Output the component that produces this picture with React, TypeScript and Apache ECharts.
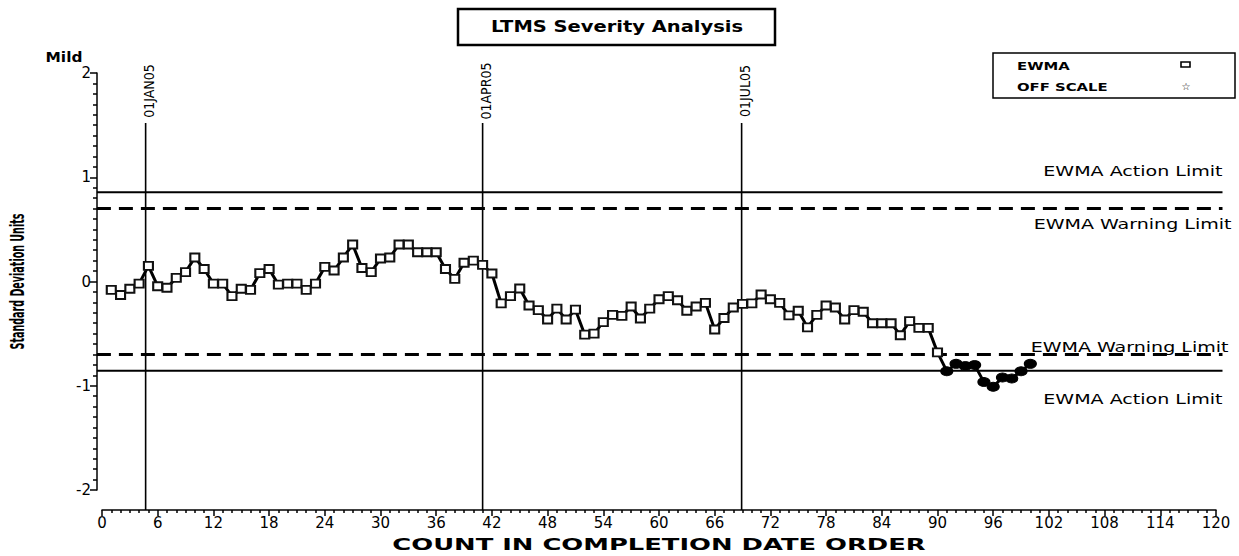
import React, { useEffect, useRef } from 'react';
import * as echarts from 'echarts';

// EWMA values, in completion-date order (count 1..100)
const ewmaValues: number[] = [
  -0.08, -0.13, -0.07, -0.02, 0.15, -0.045, -0.06, 0.035, 0.09, 0.23,
  0.12, -0.02, -0.02, -0.14, -0.07, -0.08, 0.08, 0.12, -0.03, -0.02,
  -0.02, -0.08, -0.02, 0.14, 0.105, 0.23, 0.355, 0.13, 0.09, 0.22,
  0.23, 0.355, 0.355, 0.28, 0.28, 0.28, 0.12, 0.025, 0.18, 0.2,
  0.16, 0.077, -0.21, -0.14, -0.067, -0.23, -0.275, -0.365, -0.26, -0.365,
  -0.27, -0.51, -0.5, -0.39, -0.32, -0.33, -0.24, -0.355, -0.26, -0.17,
  -0.14, -0.18, -0.28, -0.24, -0.205, -0.46, -0.35, -0.25, -0.215, -0.21,
  -0.125, -0.17, -0.205, -0.325, -0.28, -0.44, -0.32, -0.23, -0.25, -0.365,
  -0.275, -0.29, -0.4, -0.4, -0.4, -0.515, -0.38, -0.445, -0.445, -0.68,
  -0.86, -0.79, -0.81, -0.8, -0.965, -1.01, -0.92, -0.93, -0.86, -0.79,
];

const xMin = 0;
const xMax = 120;
const xStep = 6;
const yMin = -2;
const yMax = 2;
const yStep = 1;

const actionLimit = 0.856;
const warningLimit = 0.7;

const dateMarkX: number[] = [4.7, 41, 68.9];
const dateMarkLabels: string[] = ['01JAN05', '01APR05', '01JUL05'];

const titleText = 'LTMS Severity Analysis';
const xAxisTitle = 'COUNT IN COMPLETION DATE ORDER';
const yAxisTitle = 'Standard Deviation Units';
const yTopLabel = 'Mild';
const legendLabels: string[] = ['EWMA', 'OFF SCALE'];

const FONT = "'DejaVu Sans', Verdana, sans-serif";
const NARROW = "'Liberation Sans Narrow', 'DejaVu Sans Condensed', 'Arial Narrow', sans-serif";

export default function App() {
  const ref = useRef<HTMLDivElement>(null);

  useEffect(() => {
    if (!ref.current) return;
    const chart = echarts.init(ref.current, undefined, { renderer: 'svg' });

    const data = ewmaValues.map((v, i) => {
      const beyond = v < -warningLimit || v > warningLimit;
      return {
        value: [i + 1, v],
        symbol: beyond ? 'circle' : 'rect',
        symbolSize: beyond ? [12, 9] : [9, 8],
        itemStyle: beyond
          ? { color: '#000', borderColor: '#000', borderWidth: 1 }
          : { color: '#fff', borderColor: '#111', borderWidth: 2 },
      };
    });

    chart.setOption({
      animation: false,
      backgroundColor: '#fff',
      textStyle: { fontFamily: FONT },
      grid: { left: 102, right: 23, top: 73, bottom: 66, containLabel: false },
      xAxis: {
        type: 'value',
        min: xMin,
        max: xMax,
        interval: xStep,
        offset: 20,
        axisLine: { show: true, onZero: false, lineStyle: { color: '#000', width: 1.5 } },
        axisTick: { show: true, length: 6, lineStyle: { color: '#000', width: 1.5 } },
        minorTick: { show: true, splitNumber: 6, length: 3, lineStyle: { color: '#000', width: 1.5 } },
        axisLabel: { color: '#000', fontSize: 15, fontFamily: FONT, margin: 5 },
        splitLine: { show: false },
      },
      yAxis: {
        type: 'value',
        min: yMin,
        max: yMax,
        interval: yStep,
        offset: 5,
        axisLine: { show: true, onZero: false, lineStyle: { color: '#000', width: 1.5 } },
        axisTick: { show: true, length: 7, lineStyle: { color: '#000', width: 1.5 } },
        minorTick: { show: true, splitNumber: 10, length: 4, lineStyle: { color: '#000', width: 1.5 } },
        axisLabel: { color: '#000', fontSize: 15, fontFamily: FONT, margin: 6 },
        splitLine: { show: false },
      },
      series: [
        {
          type: 'line',
          name: 'EWMA',
          data,
          showAllSymbol: true,
          lineStyle: { color: '#000', width: 3 },
          itemStyle: { color: '#fff', borderColor: '#000' },
          z: 5,
        },
      ],
    });

    const px = (x: number, y: number) => chart.convertToPixel({ gridIndex: 0 }, [x, y]) as number[];
    const xLeft = px(-0.55, 0)[0];
    const xRight = px(120.7, 0)[0];
    const axisBottom = px(0, yMin)[1] + 20;

    const g: any[] = [];
    const hLine = (val: number, dashed: boolean) => {
      const y = px(0, val)[1];
      g.push({
        type: 'line',
        shape: { x1: xLeft, y1: y, x2: xRight, y2: y },
        style: { stroke: '#000', lineWidth: dashed ? 3 : 2.2, lineDash: dashed ? [14, 8] : null },
        z: 2,
      });
      return y;
    };
    const yActU = hLine(actionLimit, false);
    const yWarnU = hLine(warningLimit, true);
    const yWarnL = hLine(-warningLimit, true);
    const yActL = hLine(-actionLimit, false);

    const limitLabel = (text: string, x: number, y: number) => {
      g.push({
        type: 'text',
        x,
        y,
        scaleX: 1.36,
        style: { text, fill: '#000', fontSize: 14, fontFamily: FONT, align: 'right', verticalAlign: 'middle' },
        z: 3,
      });
    };
    limitLabel('EWMA Action Limit', xRight, yActU - 21);
    limitLabel('EWMA Warning Limit', xRight + 9, yWarnU + 15);
    limitLabel('EWMA Warning Limit', xRight + 6, yWarnL - 8);
    limitLabel('EWMA Action Limit', xRight, yActL + 28);

    dateMarkX.forEach((dx, i) => {
      const x = px(dx, 0)[0];
      const top = px(dx, 1.52)[1];
      g.push({
        type: 'line',
        shape: { x1: x, y1: top, x2: x, y2: axisBottom },
        style: { stroke: '#000', lineWidth: 1.6 },
        z: 2,
      });
      g.push({
        type: 'text',
        x: x + 3,
        y: top - 32,
        rotation: Math.PI / 2,
        style: {
          text: dateMarkLabels[i],
          fill: '#000',
          fontSize: 14,
          fontFamily: NARROW,
          align: 'center',
          verticalAlign: 'middle',
        },
        z: 3,
      });
    });

    // title box
    g.push({
      type: 'rect',
      shape: { x: 458, y: 9, width: 317, height: 36 },
      style: { fill: 'none', stroke: '#000', lineWidth: 2.5 },
    });
    g.push({
      type: 'text',
      x: 617,
      y: 27,
      scaleX: 1.3,
      style: { text: titleText, fill: '#000', fontSize: 15, fontWeight: 'bold', fontFamily: FONT, align: 'center', verticalAlign: 'middle' },
    });

    // axis titles
    const xMid = (px(xMin, 0)[0] + px(xMax, 0)[0]) / 2;
    g.push({
      type: 'text',
      x: xMid,
      y: 545,
      scaleX: 1.72,
      style: { text: xAxisTitle, fill: '#000', fontSize: 15, fontWeight: 'bold', fontFamily: FONT, align: 'center', verticalAlign: 'middle' },
    });
    g.push({
      type: 'text',
      x: 18,
      y: px(0, 0)[1],
      rotation: Math.PI / 2,
      scaleX: 0.56,
      style: { text: yAxisTitle, fill: '#000', fontSize: 19, fontWeight: 'bold', fontFamily: NARROW, align: 'center', verticalAlign: 'middle' },
    });
    g.push({
      type: 'text',
      x: 64,
      y: 57,
      scaleX: 1.1,
      style: { text: yTopLabel, fill: '#000', fontSize: 14, fontWeight: 'bold', fontFamily: FONT, align: 'center', verticalAlign: 'middle' },
    });

    // legend box
    g.push({
      type: 'rect',
      shape: { x: 993, y: 53, width: 242, height: 45 },
      style: { fill: 'none', stroke: '#000', lineWidth: 1.5 },
    });
    g.push({
      type: 'text',
      x: 1017,
      y: 66,
      scaleX: 1.35,
      style: { text: legendLabels[0], fill: '#000', fontSize: 11, fontWeight: 'bold', fontFamily: FONT, align: 'left', verticalAlign: 'middle' },
    });
    g.push({
      type: 'text',
      x: 1017,
      y: 87,
      scaleX: 1.35,
      style: { text: legendLabels[1], fill: '#000', fontSize: 11, fontWeight: 'bold', fontFamily: FONT, align: 'left', verticalAlign: 'middle' },
    });
    g.push({
      type: 'rect',
      shape: { x: 1181, y: 62, width: 9, height: 5 },
      style: { fill: '#fff', stroke: '#000', lineWidth: 1.6 },
    });
    g.push({
      type: 'text',
      x: 1186,
      y: 86,
      style: { text: '☆', fill: '#000', fontSize: 10, fontFamily: FONT, align: 'center', verticalAlign: 'middle' },
    });

    chart.setOption({ graphic: g });

    return () => chart.dispose();
  }, []);

  return <div ref={ref} style={{ position: 'fixed', left: 0, top: 0, width: 1239, height: 556 }} />;
}
